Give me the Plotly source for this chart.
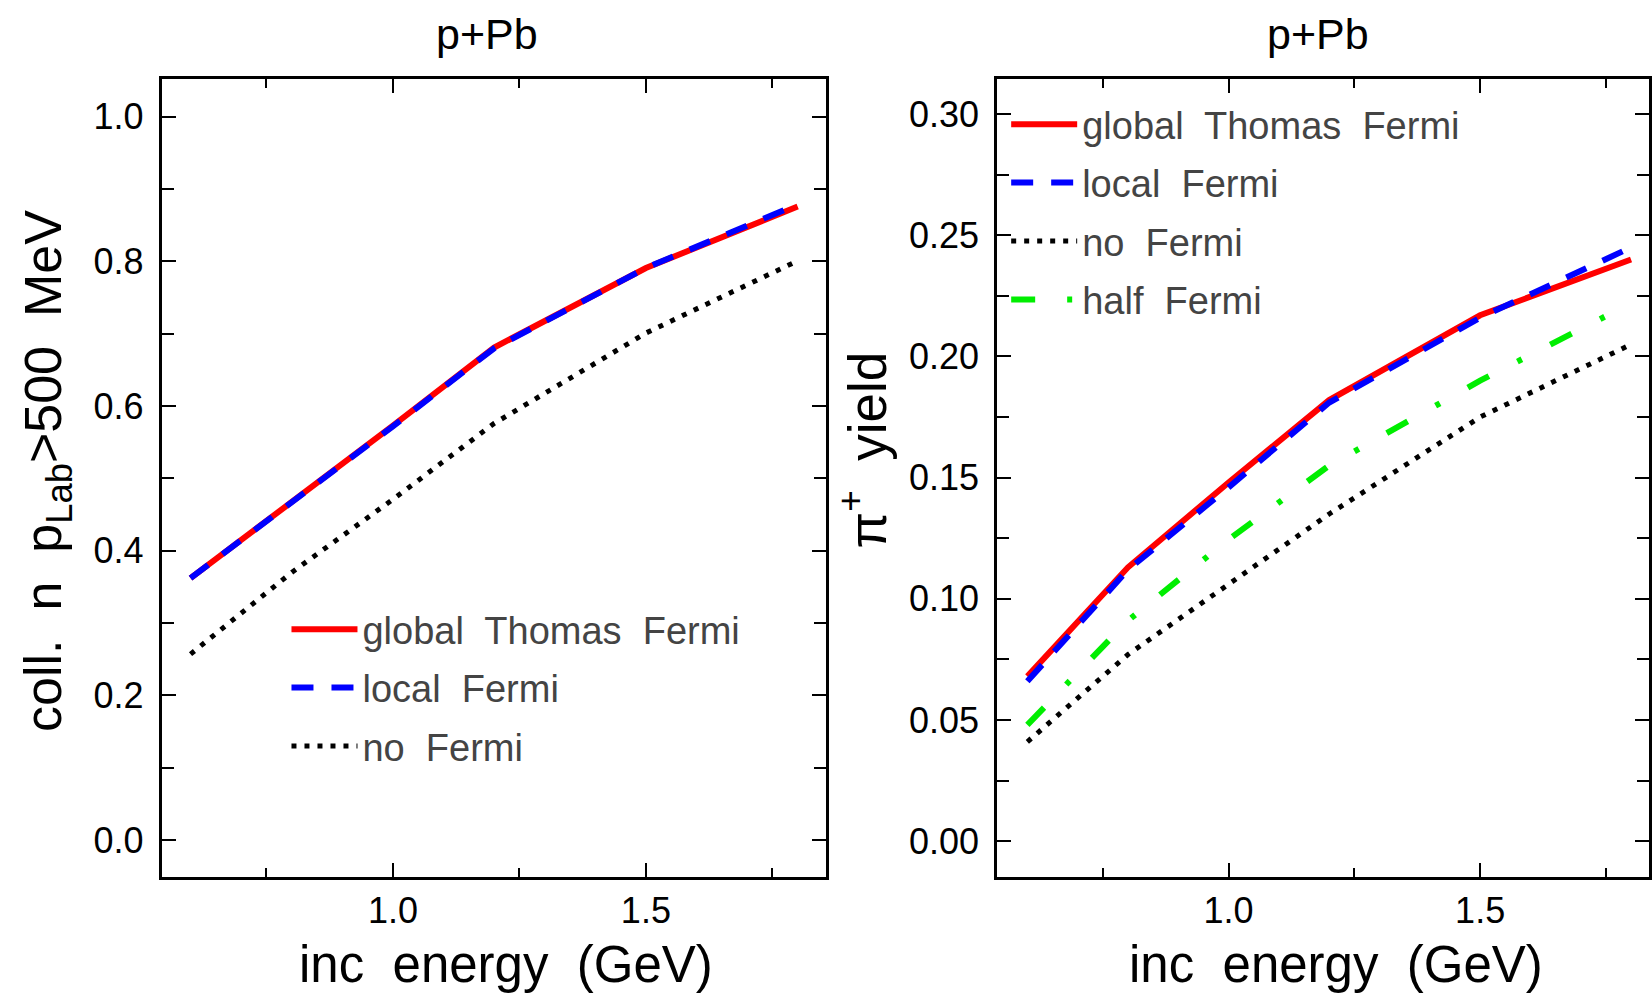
import plotly.graph_objects as go

# ---------------- data ----------------
energy = [0.6, 0.8, 1.0, 1.2, 1.5, 1.8]

coll_global_tf = [0.362, 0.467, 0.573, 0.681, 0.791, 0.876]
coll_local_f = [0.362, 0.466, 0.572, 0.680, 0.791, 0.879]
coll_no_f = [0.257, 0.370, 0.471, 0.576, 0.701, 0.801]

pi_global_tf = [0.068, 0.113, 0.148, 0.182, 0.217, 0.240]
pi_local_f = [0.066, 0.112, 0.146, 0.181, 0.216, 0.245]
pi_no_f = [0.041, 0.077, 0.106, 0.135, 0.175, 0.205]
pi_half_f = [0.048, 0.091, 0.1245, 0.155, 0.190, 0.222]

names = ["global\u00a0 Thomas\u00a0 Fermi", "local\u00a0 Fermi", "no\u00a0 Fermi", "half\u00a0 Fermi"]

x_tickvals = [1.0, 1.5]
x_ticktext = ["1.0", "1.5"]
x_minor_vals = [0.75, 1.25, 1.75]
y1_tickvals = [0.0, 0.2, 0.4, 0.6, 0.8, 1.0]
y1_ticktext = ["0.0", "0.2", "0.4", "0.6", "0.8", "1.0"]
y1_minor_vals = [0.1, 0.3, 0.5, 0.7, 0.9]
y2_tickvals = [0.0, 0.05, 0.10, 0.15, 0.20, 0.25, 0.30]
y2_ticktext = ["0.00", "0.05", "0.10", "0.15", "0.20", "0.25", "0.30"]
y2_minor_vals = [0.025, 0.075, 0.125, 0.175, 0.225, 0.275]

# ---------------- styles ----------------
FONT = "Liberation Sans, Arial, sans-serif"
RED = "#ff0000"
BLUE = "#0000ff"
GREEN = "#00ee00"
BLACK = "#000000"

W, H = 1652, 1001
fig = go.Figure()

def add(x, y, name, color, dash, xa, ya, legend, group, width=6):
    fig.add_trace(go.Scatter(
        x=x, y=y, mode="lines", name=name,
        line=dict(color=color, width=width, dash=dash),
        xaxis=xa, yaxis=ya, legend=legend, legendgroup=group,
    ))

add(energy, coll_global_tf, names[0], RED, "solid", "x", "y", "legend", "a1")
add(energy, coll_local_f, names[1], BLUE, "22px,18px", "x", "y", "legend", "a2")
add(energy, coll_no_f, names[2], BLACK, "5px,8px", "x", "y", "legend", "a3", width=5)

add(energy, pi_global_tf, names[0], RED, "solid", "x2", "y2", "legend2", "b1")
add(energy, pi_local_f, names[1], BLUE, "22px,18px", "x2", "y2", "legend2", "b2")
add(energy, pi_no_f, names[2], BLACK, "5px,8px", "x2", "y2", "legend2", "b3", width=5)
add(energy, pi_half_f, names[3], GREEN, "24px,32px,5px,32px", "x2", "y2", "legend2", "b4")

def px_x(p):
    return p / W

def px_y(p):
    return (H - p) / H

axis_common = dict(
    showline=True, linecolor="black", linewidth=3, mirror="allticks",
    ticks="inside", ticklen=14, tickwidth=2, tickcolor="black",
    showgrid=False, zeroline=False,
    tickfont=dict(family=FONT, size=36, color="black"),
)

def minor(vals, length):
    return dict(tickmode="array", tickvals=vals, ticks="inside", ticklen=length,
                tickwidth=2, tickcolor="black", showgrid=False)

ydom = [px_y(877), px_y(79)]

leg_common = dict(xanchor="left", yanchor="top", bgcolor="rgba(0,0,0,0)", borderwidth=0,
                  tracegroupgap=6, itemwidth=66,
                  font=dict(family=FONT, size=38, color="#444444"))

fig.update_layout(
    width=W, height=H,
    margin=dict(l=0, r=0, t=0, b=0),
    paper_bgcolor="white", plot_bgcolor="white",
    font=dict(family=FONT, color="black"),
    xaxis=dict(domain=[px_x(162), px_x(828)], range=[0.543, 1.857], ticklabelstandoff=0,
               tickvals=x_tickvals, ticktext=x_ticktext, minor=minor(x_minor_vals, 9),
               anchor="y", **axis_common),
    yaxis=dict(domain=ydom, range=[-0.0513, 1.0524], ticklabelstandoff=8,
               tickvals=y1_tickvals, ticktext=y1_ticktext, minor=minor(y1_minor_vals, 12),
               anchor="x", **axis_common),
    xaxis2=dict(domain=[px_x(999), 1.0], range=[0.540, 1.8357], ticklabelstandoff=0,
                tickvals=x_tickvals, ticktext=x_ticktext, minor=minor(x_minor_vals, 9),
                anchor="y2", **axis_common),
    yaxis2=dict(domain=ydom, range=[-0.0148, 0.3145], ticklabelstandoff=8,
                tickvals=y2_tickvals, ticktext=y2_ticktext, minor=minor(y2_minor_vals, 12),
                anchor="x2", **axis_common),
    legend=dict(x=px_x(287), y=px_y(598), **leg_common),
    legend2=dict(x=px_x(1008), y=px_y(93), **leg_common),
    showlegend=True,
)

ann = [
    dict(text="p+Pb", x=px_x(488), y=px_y(34), size=43, angle=0),
    dict(text="p+Pb", x=px_x(1320), y=px_y(34), size=43, angle=0),
    dict(text="inc\u00a0 energy\u00a0 (GeV)", x=px_x(507), y=px_y(964), size=51, angle=0),
    dict(text="inc\u00a0 energy\u00a0 (GeV)", x=px_x(1338), y=px_y(964), size=51, angle=0),
    dict(text="coll.\u00a0 n\u00a0 p<sub>Lab</sub>&gt;500\u00a0 MeV", x=px_x(47), y=px_y(471), size=52, angle=-90),
    dict(text="\u03c0<sup>+</sup>\u00a0 yield", x=px_x(864), y=px_y(450), size=53, angle=-90),
]
for a in ann:
    fig.add_annotation(text=a["text"], x=a["x"], y=a["y"], xref="paper", yref="paper",
                       xanchor="center", yanchor="middle", showarrow=False,
                       textangle=a["angle"], font=dict(family=FONT, size=a["size"], color="black"))

fig.write_html("out.html")
